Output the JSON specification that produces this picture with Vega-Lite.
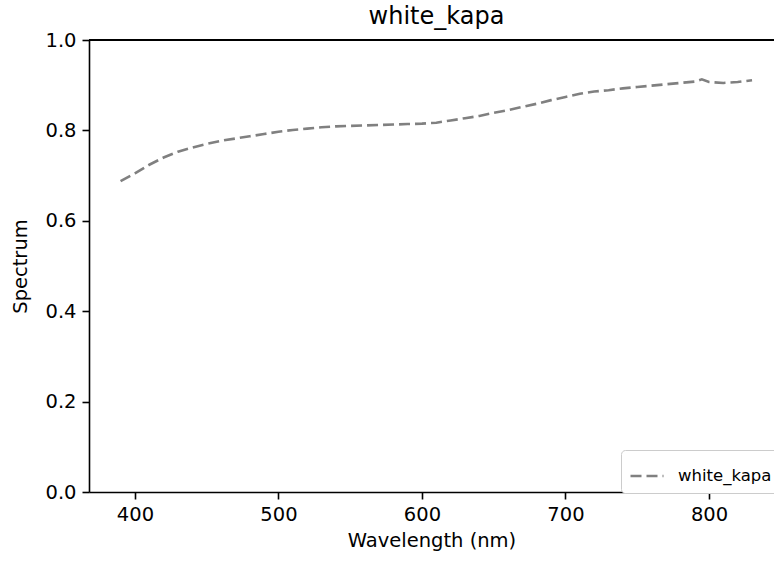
{
  "$schema": "https://vega.github.io/schema/vega-lite/v6.json",
  "autosize": {"type": "none"},
  "padding": {"left": 89, "top": 40, "right": 0, "bottom": 69},
  "width": 685,
  "height": 452,
  "background": "white",
  "title": {
    "text": "white_kapa",
    "font": "DejaVu Sans",
    "fontSize": 24,
    "fontWeight": "normal",
    "color": "#000000",
    "anchor": "middle",
    "frame": "group",
    "offset": 1,
    "dx": 5
  },
  "config": {
    "view": {"stroke": null},
    "font": "DejaVu Sans",
    "axis": {
      "grid": false,
      "domainColor": "#000000",
      "domainWidth": 1.6,
      "tickColor": "#000000",
      "tickWidth": 1.6,
      "tickSize": 7,
      "labelPadding": 6,
      "labelFont": "DejaVu Sans",
      "labelFontSize": 19.5,
      "labelColor": "#000000",
      "titleFont": "DejaVu Sans",
      "titleFontSize": 19.5,
      "titleFontWeight": "normal",
      "titleColor": "#000000"
    }
  },
  "data": {
    "values": [
      {"wavelength": 390, "spectrum": 0.688, "series": "white_kapa"},
      {"wavelength": 400, "spectrum": 0.705, "series": "white_kapa"},
      {"wavelength": 410, "spectrum": 0.724, "series": "white_kapa"},
      {"wavelength": 420, "spectrum": 0.740, "series": "white_kapa"},
      {"wavelength": 430, "spectrum": 0.753, "series": "white_kapa"},
      {"wavelength": 440, "spectrum": 0.762, "series": "white_kapa"},
      {"wavelength": 450, "spectrum": 0.770, "series": "white_kapa"},
      {"wavelength": 460, "spectrum": 0.777, "series": "white_kapa"},
      {"wavelength": 470, "spectrum": 0.782, "series": "white_kapa"},
      {"wavelength": 480, "spectrum": 0.787, "series": "white_kapa"},
      {"wavelength": 490, "spectrum": 0.792, "series": "white_kapa"},
      {"wavelength": 500, "spectrum": 0.797, "series": "white_kapa"},
      {"wavelength": 510, "spectrum": 0.801, "series": "white_kapa"},
      {"wavelength": 520, "spectrum": 0.804, "series": "white_kapa"},
      {"wavelength": 530, "spectrum": 0.807, "series": "white_kapa"},
      {"wavelength": 540, "spectrum": 0.809, "series": "white_kapa"},
      {"wavelength": 550, "spectrum": 0.810, "series": "white_kapa"},
      {"wavelength": 560, "spectrum": 0.811, "series": "white_kapa"},
      {"wavelength": 570, "spectrum": 0.812, "series": "white_kapa"},
      {"wavelength": 580, "spectrum": 0.813, "series": "white_kapa"},
      {"wavelength": 590, "spectrum": 0.814, "series": "white_kapa"},
      {"wavelength": 600, "spectrum": 0.815, "series": "white_kapa"},
      {"wavelength": 610, "spectrum": 0.817, "series": "white_kapa"},
      {"wavelength": 620, "spectrum": 0.822, "series": "white_kapa"},
      {"wavelength": 630, "spectrum": 0.827, "series": "white_kapa"},
      {"wavelength": 640, "spectrum": 0.832, "series": "white_kapa"},
      {"wavelength": 650, "spectrum": 0.839, "series": "white_kapa"},
      {"wavelength": 660, "spectrum": 0.845, "series": "white_kapa"},
      {"wavelength": 670, "spectrum": 0.852, "series": "white_kapa"},
      {"wavelength": 680, "spectrum": 0.859, "series": "white_kapa"},
      {"wavelength": 690, "spectrum": 0.867, "series": "white_kapa"},
      {"wavelength": 700, "spectrum": 0.874, "series": "white_kapa"},
      {"wavelength": 710, "spectrum": 0.881, "series": "white_kapa"},
      {"wavelength": 720, "spectrum": 0.886, "series": "white_kapa"},
      {"wavelength": 730, "spectrum": 0.889, "series": "white_kapa"},
      {"wavelength": 740, "spectrum": 0.893, "series": "white_kapa"},
      {"wavelength": 750, "spectrum": 0.896, "series": "white_kapa"},
      {"wavelength": 760, "spectrum": 0.899, "series": "white_kapa"},
      {"wavelength": 770, "spectrum": 0.902, "series": "white_kapa"},
      {"wavelength": 780, "spectrum": 0.905, "series": "white_kapa"},
      {"wavelength": 790, "spectrum": 0.908, "series": "white_kapa"},
      {"wavelength": 795, "spectrum": 0.913, "series": "white_kapa"},
      {"wavelength": 800, "spectrum": 0.907, "series": "white_kapa"},
      {"wavelength": 810, "spectrum": 0.905, "series": "white_kapa"},
      {"wavelength": 820, "spectrum": 0.907, "series": "white_kapa"},
      {"wavelength": 830, "spectrum": 0.911, "series": "white_kapa"}
    ]
  },
  "layer": [
    {
      "mark": {"type": "rule", "color": "#000000", "strokeWidth": 1.6},
      "encoding": {"y": {"datum": 1, "type": "quantitative", "scale": {"domain": [0, 1]}}}
    },
    {
      "mark": {"type": "line", "strokeWidth": 2.6, "strokeDash": [11, 5], "strokeCap": "butt", "clip": true},
      "encoding": {
        "x": {
          "field": "wavelength",
          "type": "quantitative",
          "title": "Wavelength (nm)",
          "scale": {"domain": [368, 845.3], "nice": false, "zero": false},
          "axis": {"values": [400, 500, 600, 700, 800], "titlePadding": 8}
        },
        "y": {
          "field": "spectrum",
          "type": "quantitative",
          "title": "Spectrum",
          "scale": {"domain": [0, 1], "nice": false},
          "axis": {"values": [0, 0.2, 0.4, 0.6, 0.8, 1.0], "format": ".1f", "titlePadding": 14}
        },
        "color": {
          "field": "series",
          "type": "nominal",
          "scale": {"range": ["#808080"]},
          "legend": {
            "title": null,
            "orient": "none",
            "legendX": 532,
            "legendY": 410,
            "symbolType": "stroke",
            "symbolSize": 1089,
            "symbolStrokeWidth": 2.6,
            "symbolDash": [11, 5],
            "labelFont": "DejaVu Sans",
            "labelFontSize": 16.5,
            "labelColor": "#000000",
            "labelOffset": 13,
            "padding": 8,
            "fillColor": "white",
            "strokeColor": "#cccccc",
            "cornerRadius": 4
          }
        }
      }
    }
  ]
}
